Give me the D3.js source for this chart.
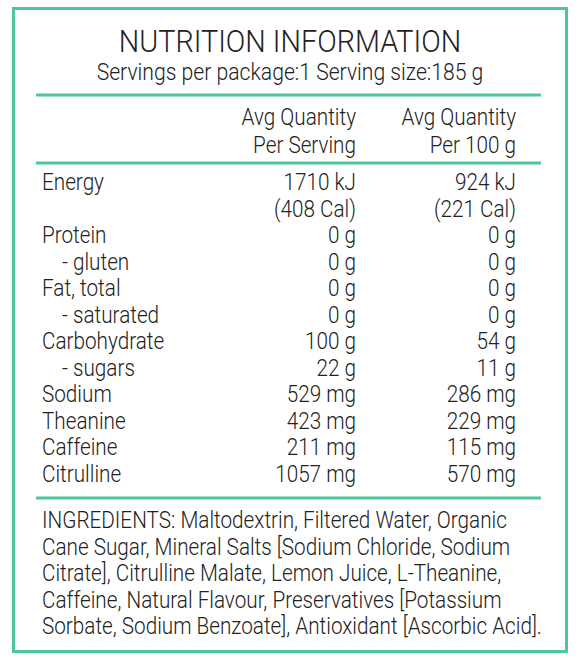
<!DOCTYPE html><html><head><meta charset="utf-8">
<script src="https://cdn.jsdelivr.net/npm/d3@7"></script>
<style>body{margin:0;background:#fff}</style></head><body><svg id="c" width="580" height="660"></svg>
<script>
const title="NUTRITION INFORMATION";
const subtitle="Servings per package:1 Serving size:185 g";
const headers=[["Avg Quantity","Per Serving"],["Avg Quantity","Per 100 g"]];
const labels=["Energy","","Protein","  - gluten","Fat, total","  - saturated","Carbohydrate","  - sugars","Sodium","Theanine","Caffeine","Citrulline"];
const perServing=["1710 kJ","(408 Cal)","0 g","0 g","0 g","0 g","100 g","22 g","529 mg","423 mg","211 mg","1057 mg"];
const per100=["924 kJ","(221 Cal)","0 g","0 g","0 g","0 g","54 g","11 g","286 mg","229 mg","115 mg","570 mg"];
const ingredients=["INGREDIENTS: Maltodextrin, Filtered Water, Organic","Cane Sugar, Mineral Salts [Sodium Chloride, Sodium","Citrate], Citrulline Malate, Lemon Juice, L-Theanine,","Caffeine, Natural Flavour, Preservatives [Potassium","Sorbate, Sodium Benzoate], Antioxidant [Ascorbic Acid]."];
const svg=d3.select("#c");
const F="'Roboto','Liberation Sans Narrow',sans-serif";
const G="#4dc6a0", T="#222";
svg.append("rect").attr("x",13.5).attr("y",8.5).attr("width",553).attr("height",643).attr("fill","none").attr("stroke",G).attr("stroke-width",3);
[95,163,498].forEach(y=>svg.append("line").attr("x1",36).attr("x2",541).attr("y1",y).attr("y2",y).attr("stroke",G).attr("stroke-width",3));
const t=(x,y,s,sz,a)=>svg.append("g").attr("transform",`translate(${x},${y}) scale(0.9,1)`)
 .append("text").attr("font-family",F).attr("font-weight",300).attr("font-size",sz).attr("fill",T).attr("text-anchor",a||"start").attr("xml:space","preserve").text(s);
t(290,52,title,32,"middle");
t(290,80,subtitle,23.5,"middle");
const y=d3.scaleLinear().domain([0,labels.length-1]).range([190,482]);
const cx=[356,516];
const S=23;
headers.forEach((h,i)=>{t(cx[i],125,h[0],S,"end");t(cx[i],153,h[1],S,"end");});
labels.forEach((l,i)=>{
 const ind=l.startsWith("  ");
 t(ind?62:42,y(i),l.trim(),S);
 t(cx[0],y(i),perServing[i],S,"end");
 t(cx[1],y(i),per100[i],S,"end");
});
ingredients.forEach((s,i)=>t(42,528+i*26.5,s,S));
</script></body></html>
